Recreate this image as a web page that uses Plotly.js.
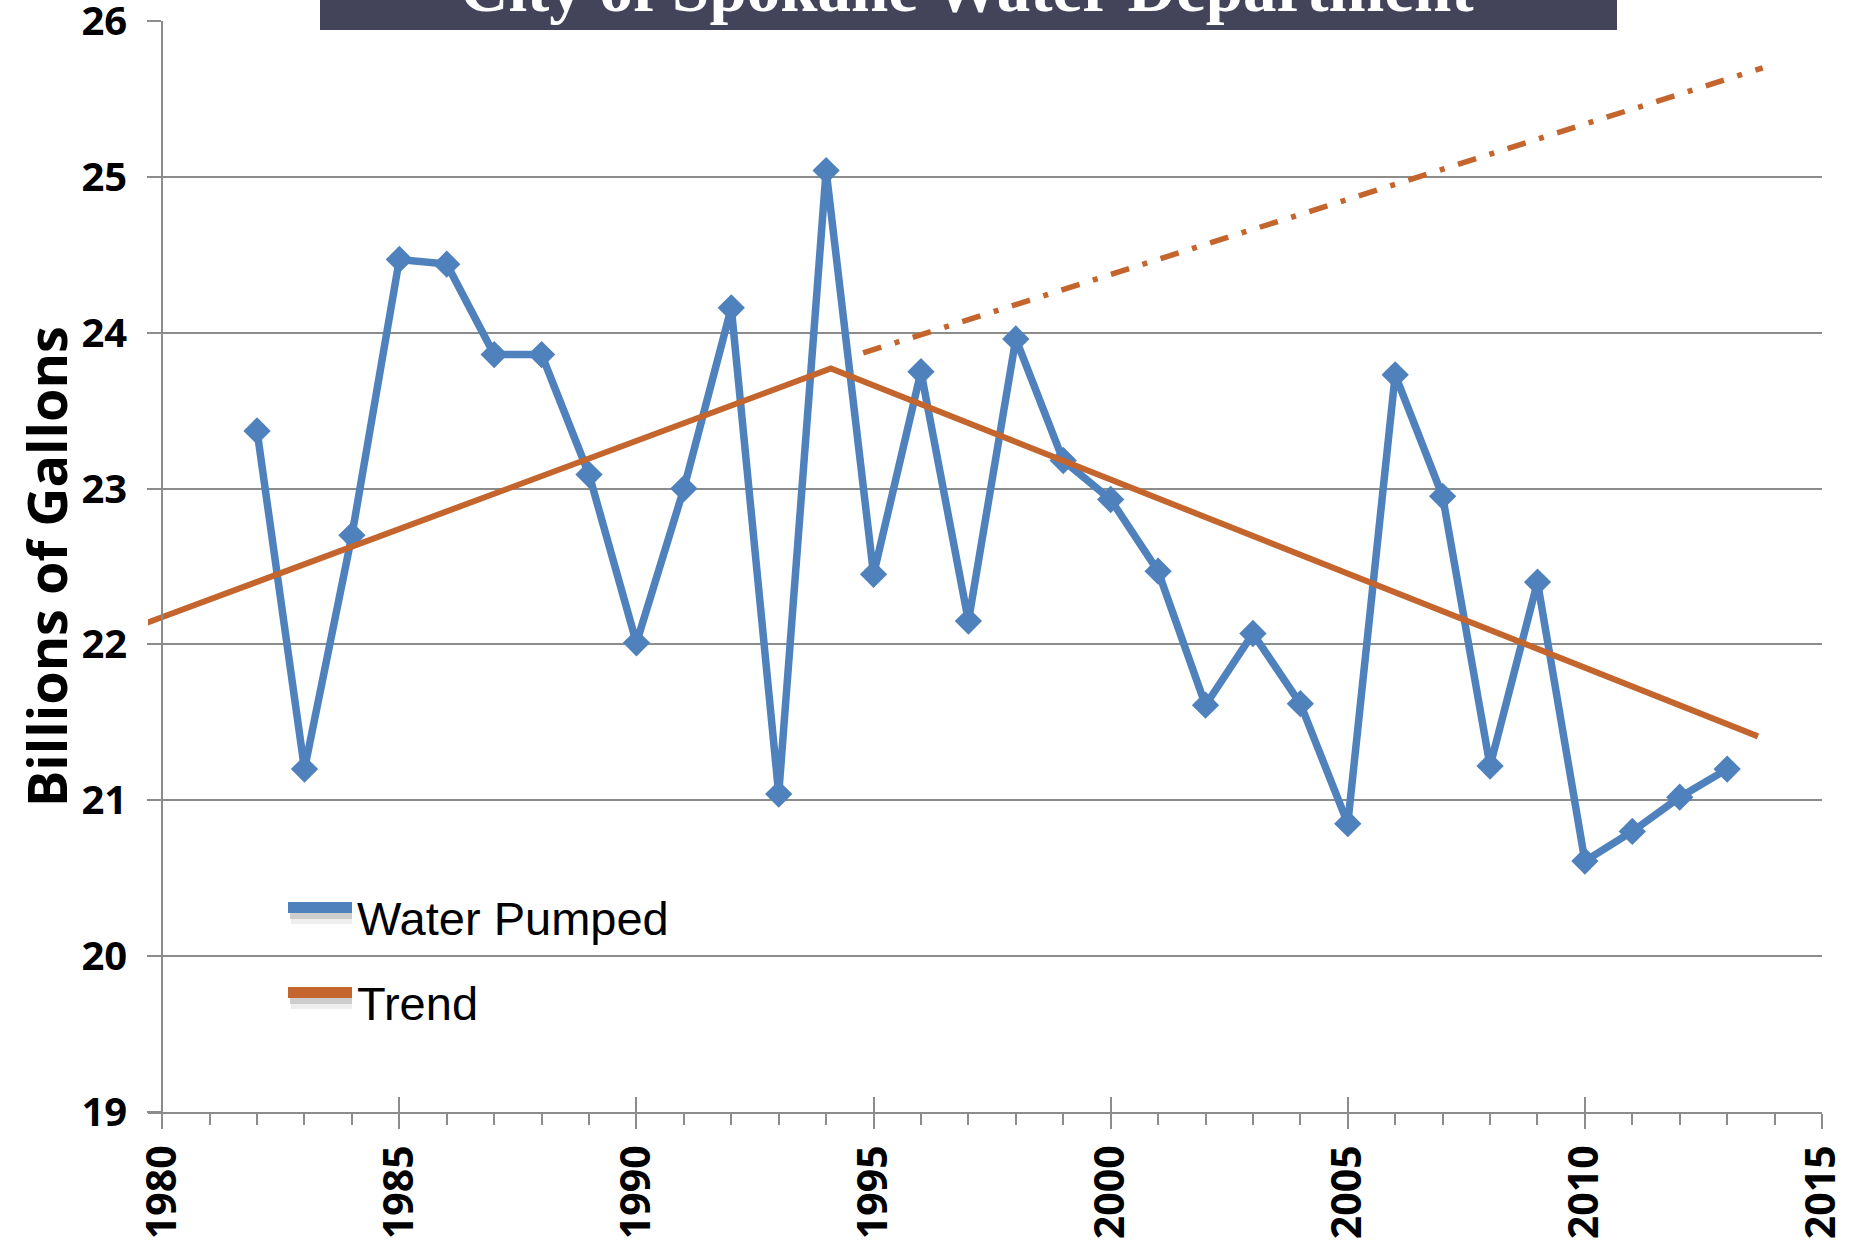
<!DOCTYPE html>
<html>
<head>
<meta charset="utf-8">
<script src="https://cdn.plot.ly/plotly-3.0.1.min.js"></script>
<style>html,body{margin:0;padding:0;background:#fff;}#chart{width:1861px;height:1242px;}</style>
</head>
<body>
<div id="chart"></div>
<script>
// ---- data ----
const years = [1982,1983,1984,1985,1986,1987,1988,1989,1990,1991,1992,1993,1994,1995,1996,1997,1998,1999,2000,2001,2002,2003,2004,2005,2006,2007,2008,2009,2010,2011,2012,2013];
const waterPumped = [23.37,21.20,22.70,24.47,24.44,23.86,23.86,23.09,22.01,23.00,24.16,21.04,25.04,22.45,23.75,22.15,23.96,23.18,22.93,22.47,21.61,22.07,21.62,20.85,23.73,22.95,21.22,22.40,20.61,20.80,21.02,21.20];
const trendX = [1979.6, 1994.1, 2013.65];
const trendY = [22.13, 23.77, 21.41];
const projX = [1994.78, 2013.75];
const projY = [23.87, 25.70];
const titleText = "City of Spokane Water Department";
const yTitleText = "Billions of Gallons";
const legendNames = ["Water Pumped", "Trend"];

// ---- styling ----
const BLUE = "#4F81BD";
const ORANGE = "#C4652E";
const GRID = "#8C8C8C";
const W = 1861, H = 1242;
const M = {l:148, r:39, t:21, b:130};
const PW = W - M.l - M.r, PH = H - M.t - M.b;
const px = v => (v - M.l) / PW;
const py = v => (H - M.b - v) / PH;
const XR = [1979.7, 2015];

const traces = [
  {x: years, y: waterPumped, type: "scatter", mode: "lines+markers", name: legendNames[0],
   line: {color: BLUE, width: 7.5}, marker: {symbol: "diamond", size: 21, color: BLUE}},
  {x: trendX, y: trendY, type: "scatter", mode: "lines", name: legendNames[1],
   line: {color: ORANGE, width: 6}},
  {x: projX, y: projY, type: "scatter", mode: "lines", showlegend: false,
   line: {color: ORANGE, width: 5.5, dash: "19px,14px,5px,14px"}},
  {x: [], y: [], xaxis: "x2", type: "scatter", showlegend: false}
];

const tickFontX = {family: "Open Sans, sans-serif", size: 41, color: "#000", weight: "bold"};
const tickFontY = {family: "Open Sans, sans-serif", size: 40, color: "#000", weight: "bold"};

const layout = {
  width: W, height: H, margin: M, showlegend: false,
  paper_bgcolor: "#fff", plot_bgcolor: "#fff",
  xaxis: {range: XR, tick0: 1980, dtick: 5, ticks: "outside", ticklen: 15, tickwidth: 2, tickcolor: GRID,
          showline: true, linecolor: GRID, linewidth: 2, showgrid: false, zeroline: false,
          tickangle: -90, tickfont: tickFontX, tickformat: "d", ticklabeloverflow: "allow",
          minor: {dtick: 1, ticks: "outside", ticklen: 11, tickwidth: 2, tickcolor: GRID, showgrid: false}},
  xaxis2: {range: XR, overlaying: "x", anchor: "y", side: "bottom", tick0: 1980, dtick: 5, ticks: "inside",
           ticklen: 15, tickwidth: 2, tickcolor: GRID, showticklabels: false, showgrid: false,
           zeroline: false, showline: false},
  yaxis: {range: [19, 26], dtick: 1, anchor: "free", position: px(162.2), showline: true, linecolor: GRID,
          linewidth: 2, showgrid: true, gridcolor: GRID, gridwidth: 2, ticks: "outside", ticklen: 14,
          tickwidth: 2, tickcolor: GRID, zeroline: false, tickfont: tickFontY, ticklabelstandoff: 12,
          ticklabeloverflow: "allow"},
  shapes: [
    {type: "rect", xref: "paper", yref: "paper", x0: px(320), x1: px(1617), y0: py(30), y1: py(-5),
     fillcolor: "#43435A", line: {width: 0}, layer: "above"},
    // legend swatches with soft shadow
    {type: "rect", xref: "paper", yref: "paper", x0: px(290), x1: px(352), y0: py(919), y1: py(913),
     fillcolor: "rgba(90,90,90,0.30)", line: {width: 0}},
    {type: "rect", xref: "paper", yref: "paper", x0: px(291), x1: px(352), y0: py(924), y1: py(919),
     fillcolor: "rgba(140,140,140,0.15)", line: {width: 0}},
    {type: "rect", xref: "paper", yref: "paper", x0: px(288), x1: px(352), y0: py(913), y1: py(902),
     fillcolor: BLUE, line: {width: 0}},
    {type: "rect", xref: "paper", yref: "paper", x0: px(290), x1: px(352), y0: py(1004), y1: py(998),
     fillcolor: "rgba(90,90,90,0.30)", line: {width: 0}},
    {type: "rect", xref: "paper", yref: "paper", x0: px(291), x1: px(352), y0: py(1009), y1: py(1004),
     fillcolor: "rgba(140,140,140,0.15)", line: {width: 0}},
    {type: "rect", xref: "paper", yref: "paper", x0: px(288), x1: px(352), y0: py(998), y1: py(987),
     fillcolor: ORANGE, line: {width: 0}}
  ],
  annotations: [
    {text: titleText, xref: "paper", yref: "paper", x: px(967), y: py(26), xanchor: "center", yanchor: "bottom",
     showarrow: false, borderpad: 0,
     font: {family: "Liberation Serif, serif", size: 67, color: "#fff", weight: "bold"}},
    {text: yTitleText, xref: "paper", yref: "paper", x: px(46), y: py(567), xanchor: "center", yanchor: "middle",
     textangle: -90, showarrow: false, borderpad: 0,
     font: {family: "Open Sans, sans-serif", size: 54, color: "#000", weight: "bold"}},
    {text: legendNames[0], xref: "paper", yref: "paper", x: px(356), y: py(918), xanchor: "left", yanchor: "middle",
     showarrow: false, borderpad: 0, font: {family: "Liberation Sans, Arial, sans-serif", size: 47, color: "#000"}},
    {text: legendNames[1], xref: "paper", yref: "paper", x: px(356), y: py(1003), xanchor: "left", yanchor: "middle",
     showarrow: false, borderpad: 0, font: {family: "Liberation Sans, Arial, sans-serif", size: 47, color: "#000"}}
  ]
};

Plotly.newPlot("chart", traces, layout, {displayModeBar: false, staticPlot: true});
</script>
</body>
</html>
